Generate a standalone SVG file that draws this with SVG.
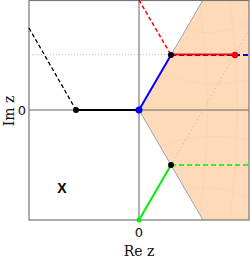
<svg xmlns="http://www.w3.org/2000/svg" width="250" height="259" viewBox="0 0 250 259">
<style>
.frame{fill:none;stroke:#777;stroke-width:1.2}
.axis{stroke:#666;stroke-width:1}
.bnd{stroke:#9aa0b8;stroke-width:1;fill:none}
.grid{stroke:#f7cfaa;stroke-width:0.5;fill:none}
.lbl{font-family:"DejaVu Serif","Liberation Serif",serif;font-size:14px;fill:#111}
.num{font-family:"DejaVu Sans","Liberation Sans",sans-serif;font-size:13px;fill:#111}
</style>
<g id="region">
<polygon points="139,110 203,0 249,0 249,220 203,220" fill="#ffdab9"/>
<path class="grid" d="M160,73 Q200,90 249,80 M172,52 Q210,65 249,50 M185,30 Q215,38 249,22 M160,147 Q200,130 249,140 M172,168 Q210,155 249,170 M185,190 Q215,182 249,198 M200,5 Q215,110 200,215 M230,0 Q245,110 230,220"/>
<line class="bnd" x1="139" y1="110" x2="203" y2="0"/>
<line class="bnd" x1="139" y1="110" x2="203" y2="220"/>
</g>
<g id="axes">
<line class="axis" x1="29" y1="110" x2="249" y2="110"/>
<line class="axis" x1="139" y1="0" x2="139" y2="220"/>
<rect class="frame" x="29" y="0.5" width="220" height="219.5"/>
</g>
<g id="connectors">
<line x1="29" y1="54.5" x2="171" y2="54.5" stroke="#ff9999" stroke-width="0.8" stroke-dasharray="1,2"/>
<line x1="171" y1="165" x2="250" y2="29" stroke="#99dd66" stroke-width="1" stroke-dasharray="1,3"/>
<line x1="29" y1="28" x2="76" y2="110" stroke="#000" stroke-width="1.3" stroke-dasharray="4,2.5"/>
<line x1="76" y1="110" x2="139" y2="110" stroke="#000" stroke-width="2"/>
<line x1="139" y1="0" x2="171" y2="55" stroke="#ff0000" stroke-width="1.5" stroke-dasharray="4,2.5"/>
<line x1="139" y1="110" x2="171" y2="55" stroke="#0000ff" stroke-width="2"/>
<line x1="171" y1="55" x2="249" y2="55" stroke="#0000ff" stroke-width="2" stroke-dasharray="5,3"/>
<line x1="171" y1="54.5" x2="235" y2="54.5" stroke="#ff0000" stroke-width="2"/>
<line x1="139" y1="220" x2="171" y2="165" stroke="#00ee00" stroke-width="2"/>
<line x1="171" y1="165" x2="249" y2="165" stroke="#00ee00" stroke-width="1.5" stroke-dasharray="5,3"/>
</g>
<g id="points">
<circle cx="76" cy="110" r="3" fill="#000"/>
<circle cx="139" cy="110" r="3.5" fill="#0000ff"/>
<circle cx="171" cy="55" r="3" fill="#000"/>
<circle cx="235" cy="55" r="3.2" fill="#ff0000"/>
<circle cx="171" cy="165" r="3" fill="#000"/>
<circle cx="139" cy="220" r="2.5" fill="#00ee00"/>
</g>
<g id="labels">
<text class="num" x="22" y="115" text-anchor="middle">0</text>
<text class="num" x="139" y="237" text-anchor="middle">0</text>
<text class="lbl" x="139" y="256" text-anchor="middle">Re z</text>
<text class="lbl" transform="translate(14,111) rotate(-90)" text-anchor="middle">Im z</text>
<text x="62" y="193" text-anchor="middle" font-family="Liberation Sans,sans-serif" font-weight="bold" font-size="14" fill="#000">X</text>
</g>
</svg>
